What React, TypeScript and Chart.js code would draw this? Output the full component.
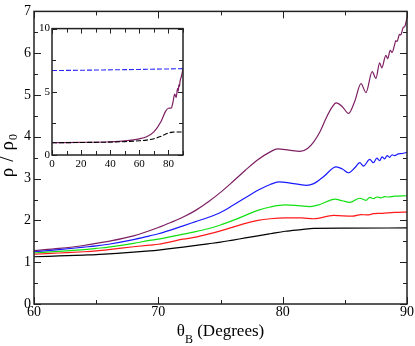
import React, { useEffect, useRef } from "react";
import { Chart, registerables } from "chart.js";
Chart.register(...registerables);

const SERIF = "\"Liberation Serif\"";

// ---- main panel data (theta_B in degrees, rho / rho0) ----
const purpleTheta = [60, 62, 64, 65, 66, 68, 70, 71, 72, 73, 74, 75, 76, 77, 78, 79, 79.6, 80.5, 81.4, 82, 82.5, 83, 83.5, 84, 84.3, 84.8, 85.3, 85.8, 86.3, 86.7, 87.2, 87.5, 87.8, 87.97, 88.3, 88.45, 88.65, 88.8, 89.0, 89.1, 89.2, 89.4, 89.5, 89.7, 89.8, 90];
const purpleRho = [1.28, 1.33, 1.40, 1.45, 1.50, 1.63, 1.83, 1.95, 2.08, 2.24, 2.44, 2.67, 2.93, 3.20, 3.45, 3.64, 3.71, 3.68, 3.65, 3.72, 3.88, 4.12, 4.45, 4.72, 4.81, 4.72, 4.56, 4.85, 5.27, 5.06, 5.56, 5.40, 5.77, 5.65, 5.95, 5.87, 6.07, 6.02, 6.20, 6.30, 6.28, 6.45, 6.44, 6.62, 6.63, 6.85];

const blueTheta = [60, 62, 64, 65, 66, 68, 69.3, 70, 72, 73, 74, 75, 76, 77, 78, 79, 79.7, 80.5, 81.9, 82.5, 83.3, 84.3, 84.8, 85.3, 85.8, 86.2, 86.5, 87.0, 87.3, 87.57, 87.8, 88.0, 88.2, 88.4, 88.6, 88.8, 89.0, 89.3, 89.6, 90];
const blueRho = [1.25, 1.30, 1.36, 1.39, 1.43, 1.54, 1.63, 1.68, 1.87, 1.97, 2.07, 2.19, 2.36, 2.54, 2.72, 2.86, 2.92, 2.90, 2.84, 2.88, 3.05, 3.28, 3.23, 3.14, 3.26, 3.38, 3.30, 3.46, 3.38, 3.49, 3.43, 3.52, 3.47, 3.55, 3.51, 3.57, 3.55, 3.59, 3.60, 3.63];

const greenTheta = [60, 62, 64, 65, 66, 68, 69.3, 70, 72, 73, 74, 75, 76, 77, 78, 79, 80.2, 81, 82.2, 83, 84.2, 84.8, 85.4, 86.2, 86.7, 87.0, 87.3, 87.6, 87.9, 88.2, 88.5, 89, 90];
const greenRho = [1.22, 1.26, 1.30, 1.33, 1.36, 1.45, 1.52, 1.55, 1.67, 1.73, 1.80, 1.89, 2.00, 2.12, 2.24, 2.32, 2.37, 2.36, 2.33, 2.38, 2.51, 2.47, 2.43, 2.53, 2.48, 2.55, 2.52, 2.56, 2.54, 2.57, 2.56, 2.58, 2.59];

const redTheta = [60, 62, 64, 65, 66, 68, 69.3, 70, 72, 73, 74, 75, 76, 77, 78, 79, 80.2, 81.5, 82.5, 84.1, 85.6, 86.3, 86.8, 87.3, 88, 89, 90];
const redRho = [1.19, 1.22, 1.25, 1.27, 1.30, 1.37, 1.41, 1.43, 1.55, 1.60, 1.67, 1.75, 1.84, 1.93, 2.00, 2.04, 2.06, 2.06, 2.04, 2.12, 2.10, 2.14, 2.13, 2.16, 2.17, 2.19, 2.20];

const blackTheta = [60, 62, 64, 65, 66, 68, 69.3, 70, 72, 74, 75, 76, 77, 78, 79, 80.2, 81.5, 82.5, 85, 90];
const blackRho = [1.13, 1.15, 1.17, 1.18, 1.20, 1.24, 1.27, 1.29, 1.36, 1.44, 1.48, 1.53, 1.58, 1.63, 1.68, 1.74, 1.78, 1.81, 1.815, 1.82];

// ---- inset data (0..90 degrees) ----
const insetSolidTheta = [0, 20, 40, 50, 60, 65, 70, 75, 78, 80, 82, 83, 84.3, 85.3, 86.3, 86.7, 87.2, 87.5, 88, 89, 90];
const insetSolidRho = [0.97, 1.0, 1.05, 1.12, 1.28, 1.45, 1.83, 2.67, 3.45, 3.70, 3.72, 4.12, 4.81, 4.56, 5.27, 5.06, 5.56, 5.40, 5.85, 6.25, 6.80];
const insetBlackTheta = [0, 20, 40, 50, 60, 65, 70, 75, 80, 83, 90];
const insetBlackRho = [0.97, 0.99, 1.02, 1.06, 1.13, 1.18, 1.29, 1.48, 1.74, 1.81, 1.82];
const insetBlueTheta = [0, 30, 60, 90];
const insetBlueRho = [6.68, 6.72, 6.77, 6.83];

// axis settings
const mainX = { min: 60, max: 90, step: 10, minor: 5 };
const mainY = { min: 0, max: 7, step: 1, minor: 0.5 };
const insetX = { min: 0, max: 90, step: 20, minor: 10 };
const insetY = { min: 0, max: 10, step: 5, minor: 2.5 };

const pts = (xs: number[], ys: number[]) => xs.map((x, i) => ({ x, y: ys[i] }));

function line(label: string, xs: number[], ys: number[], color: string, dash: number[] = [], width = 1.2) {
  return {
    label,
    data: pts(xs, ys),
    borderColor: color,
    borderWidth: width,
    borderDash: dash,
    pointRadius: 0,
    fill: false,
    tension: 0.4,
    cubicInterpolationMode: "monotone" as const,
  };
}

function framePlugin(cfg: { xMajor: number; xMinor: number; yMajor: number; yMinor: number; majorLen: number; minorLen: number; frameWidth: number; white?: boolean }) {
  return {
    id: "frameTicks",
    beforeDraw(chart: any) {
      if (!cfg.white) return;
      const { left, top, right, bottom } = chart.chartArea;
      const ctx = chart.ctx;
      ctx.save();
      ctx.fillStyle = "#fff";
      ctx.fillRect(left, top, right - left, bottom - top);
      ctx.restore();
    },
    afterDraw(chart: any) {
      const ctx = chart.ctx;
      const xs = chart.scales.x, ys = chart.scales.y;
      const { left, top, right, bottom } = chart.chartArea;
      const isMajor = (v: number, m: number) => Math.abs(v / m - Math.round(v / m)) < 1e-6;
      ctx.save();
      ctx.strokeStyle = "#222";
      ctx.lineWidth = 1;
      ctx.beginPath();
      for (let v = xs.min; v <= xs.max + 1e-9; v += cfg.xMinor) {
        const px = Math.round(xs.getPixelForValue(v)) + 0.5;
        const len = isMajor(v, cfg.xMajor) ? cfg.majorLen : cfg.minorLen;
        ctx.moveTo(px, bottom); ctx.lineTo(px, bottom - len);
        ctx.moveTo(px, top); ctx.lineTo(px, top + len);
      }
      for (let v = ys.min; v <= ys.max + 1e-9; v += cfg.yMinor) {
        const py = Math.round(ys.getPixelForValue(v)) + 0.5;
        const len = isMajor(v, cfg.yMajor) ? cfg.majorLen : cfg.minorLen;
        ctx.moveTo(left, py); ctx.lineTo(left + len, py);
        ctx.moveTo(right, py); ctx.lineTo(right - len, py);
      }
      ctx.stroke();
      ctx.lineWidth = cfg.frameWidth;
      ctx.strokeRect(left, top, right - left, bottom - top);
      ctx.restore();
    },
  };
}

const titlePlugin = {
  id: "titles",
  afterDraw(chart: any) {
    const ctx = chart.ctx;
    const { left, right, top, bottom } = chart.chartArea;
    ctx.save();
    ctx.fillStyle = "#000";
    ctx.textBaseline = "alphabetic";
    ctx.textAlign = "left";
    // x title: θ_B (Degrees)
    const big = `17px ${SERIF}`, small = `12px ${SERIF}`;
    ctx.font = big;
    const wT = ctx.measureText("θ").width;
    const wR = ctx.measureText(" (Degrees)").width;
    ctx.font = small;
    const wB = ctx.measureText("B").width;
    const total = wT + wB + wR;
    let x = (left + right) / 2 - total / 2;
    const base = 336;
    ctx.font = big; ctx.fillText("θ", x, base); x += wT;
    ctx.font = small; ctx.fillText("B", x, base + 7); x += wB;
    ctx.font = big; ctx.fillText(" (Degrees)", x, base);

    // y title: ρ / ρ_0 (rotated)
    const yb = `19px ${SERIF}`, ys = `12px ${SERIF}`;
    ctx.font = yb;
    const wRho = ctx.measureText("ρ").width;
    const wSl = ctx.measureText("/").width;
    ctx.font = ys;
    const w0 = ctx.measureText("0").width;
    const g = 6, g2 = 1;
    const L = wRho + g + wSl + g + wRho + g2 + w0;
    const center = (top + bottom) / 2 - 2;
    ctx.translate(13, center + L / 2);
    ctx.rotate(-Math.PI / 2);
    let s = 0;
    ctx.font = yb; ctx.fillText("ρ", s, 0); s += wRho + g;
    ctx.fillText("/", s, 0); s += wSl + g;
    ctx.fillText("ρ", s, 0); s += wRho + g2;
    ctx.font = ys; ctx.fillText("0", s, 4);
    ctx.restore();
  },
};

export default function App() {
  const mainRef = useRef<HTMLCanvasElement>(null);
  const insetRef = useRef<HTMLCanvasElement>(null);

  useEffect(() => {
    const main = new Chart(mainRef.current!, {
      type: "line",
      data: {
        datasets: [
          line("black", blackTheta, blackRho, "#000000"),
          line("red", redTheta, redRho, "#ff1a1a"),
          line("green", greenTheta, greenRho, "#12e012"),
          line("blue", blueTheta, blueRho, "#1a1aff"),
          line("purple", purpleTheta, purpleRho, "#7d1f63"),
        ],
      },
      options: {
        animation: false,
        responsive: false,
        events: [],
        font: { family: SERIF },
        layout: { padding: { left: 0, top: 7, right: 8, bottom: 0 } },
        plugins: { legend: { display: false }, tooltip: { enabled: false } },
        scales: {
          x: {
            type: "linear",
            min: mainX.min,
            max: mainX.max,
            grid: { display: false, drawTicks: false },
            border: { display: false },
            ticks: { stepSize: mainX.step, color: "#000", font: { family: SERIF, size: 14 }, padding: 0, maxRotation: 0, autoSkip: false },
            afterFit: (s: any) => { s.height = 42; },
          },
          y: {
            type: "linear",
            min: mainY.min,
            max: mainY.max,
            grid: { display: false, drawTicks: false },
            border: { display: false },
            ticks: { stepSize: mainY.step, color: "#000", font: { family: SERIF, size: 14 }, padding: 3, autoSkip: false },
            afterFit: (s: any) => { s.width = 34; },
          },
        },
      },
      plugins: [framePlugin({ xMajor: 10, xMinor: mainX.minor, yMajor: 1, yMinor: mainY.minor, majorLen: 7, minorLen: 4, frameWidth: 1.5 }), titlePlugin],
    } as any);

    const inset = new Chart(insetRef.current!, {
      type: "line",
      data: {
        datasets: [
          line("inset blue", insetBlueTheta, insetBlueRho, "#2a2aff", [5, 2], 1.1),
          line("inset black", insetBlackTheta, insetBlackRho, "#000000", [5, 2], 1.1),
          line("inset solid", insetSolidTheta, insetSolidRho, "#7d1f63", [], 1.2),
        ],
      },
      options: {
        animation: false,
        responsive: false,
        events: [],
        font: { family: SERIF },
        layout: { padding: { left: 0, top: 7, right: 12, bottom: 0 } },
        plugins: { legend: { display: false }, tooltip: { enabled: false } },
        scales: {
          x: {
            type: "linear",
            min: insetX.min,
            max: insetX.max,
            grid: { display: false, drawTicks: false },
            border: { display: false },
            ticks: { stepSize: insetX.step, includeBounds: false, color: "#000", font: { family: SERIF, size: 11 }, padding: 3, maxRotation: 0, autoSkip: false },
            afterFit: (s: any) => { s.height = 20; },
          },
          y: {
            type: "linear",
            min: insetY.min,
            max: insetY.max,
            grid: { display: false, drawTicks: false },
            border: { display: false },
            ticks: { stepSize: insetY.step, color: "#000", font: { family: SERIF, size: 11 }, padding: 2, autoSkip: false },
            afterFit: (s: any) => { s.width = 22; },
          },
        },
      },
      plugins: [framePlugin({ xMajor: 20, xMinor: insetX.minor, yMajor: 5, yMinor: insetY.minor, majorLen: 5, minorLen: 4, frameWidth: 1.5, white: true })],
    } as any);

    return () => {
      main.destroy();
      inset.destroy();
    };
  }, []);

  return (
    <div style={{ position: "fixed", left: 0, top: 0, width: 415, height: 346, background: "#fff", overflow: "hidden" }}>
      <canvas ref={mainRef} width={415} height={346} style={{ position: "absolute", left: 0, top: 0, width: 415, height: 346 }} />
      <canvas ref={insetRef} width={165} height={155} style={{ position: "absolute", left: 30, top: 20, width: 165, height: 155 }} />
    </div>
  );
}
